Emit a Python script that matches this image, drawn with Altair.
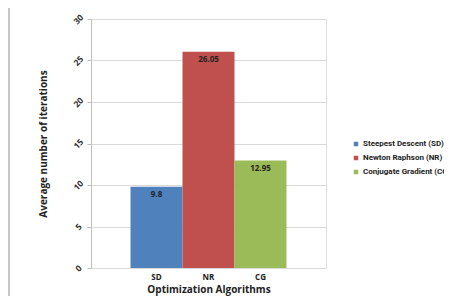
import altair as alt
import pandas as pd

abbr = ["SD", "NR", "CG"]
names = ["Steepest Descent (SD)", "Newton Raphson (NR)", "Conjugate Gradient (CG)"]
values = [9.8, 26.05, 12.95]
colors = ["#4F81BD", "#C0504D", "#9BBB59"]
y_ticks = [0, 5, 10, 15, 20, 25, 30]

df = pd.DataFrame({"abbr": abbr, "name": names, "value": values})

FONT = "Open Sans"
NARROW = "Roboto, sans-serif"

x = alt.X("abbr:N", sort=abbr,
          scale=alt.Scale(paddingInner=0, paddingOuter=0.76),
          axis=alt.Axis(title="Optimization Algorithms", labelAngle=0, ticks=False,
                        domain=False, labelFontWeight="bold", labelFontSize=8,
                        labelColor="#222", labelPadding=5, titleFontSize=10,
                        titleFontWeight="bold", titleColor="#222", titlePadding=3,
                        labelFont=FONT, titleFont=FONT))
y = alt.Y("value:Q", scale=alt.Scale(domain=[0, 30], nice=False),
          axis=alt.Axis(title="Average number of iterations", values=y_ticks,
                        labelAngle=-45, labelAlign="center", labelBaseline="middle",
                        labelPadding=9, labelFontSize=8.5, labelFontWeight="bold",
                        labelColor="#333", tickColor="#bfbfbf", tickSize=4,
                        domainColor="#bfbfbf", gridColor="#d9d9d9",
                        titleFontSize=10, titleFontWeight="bold", titleColor="#222",
                        titlePadding=23, labelFont=FONT, titleFont=FONT))

bars = alt.Chart(df).mark_bar(strokeWidth=0).encode(
    x=x, y=y,
    color=alt.Color("name:N", sort=names,
                    scale=alt.Scale(domain=names, range=colors),
                    legend=alt.Legend(title=None, orient="none", legendX=261, legendY=121,
                                      symbolType="square", symbolSize=20,
                                      symbolStrokeWidth=0, labelFontSize=8,
                                      labelFontWeight="bold", labelColor="#222",
                                      labelFont=NARROW, rowPadding=6, labelLimit=300,
                                      labelOffset=3))
)

labels = alt.Chart(df).mark_text(dy=8, fontSize=8, fontWeight="bold", color="#222",
                                 font=FONT).encode(
    x=alt.X("abbr:N", sort=abbr), y="value:Q", text=alt.Text("value:Q"))

border_left = alt.Chart(df).mark_rule(color="#bfbfbf", clip=False).encode(
    x=alt.value(-82), y=alt.value(-12), y2=alt.value(300))
border_top = alt.Chart(df).mark_rule(color="#bfbfbf", clip=False).encode(
    x=alt.value(-82), x2=alt.value(400), y=alt.value(-12))

chart = alt.layer(bars, labels, border_left, border_top).properties(
    width=235, height=249,
    autosize=alt.AutoSizeParams(type="none"),
    padding={"left": 83, "top": 11, "right": 118, "bottom": 28},
).configure_view(stroke=None).configure(background="white")

chart.save("out.html", embed_options={"renderer": "svg", "actions": False})
